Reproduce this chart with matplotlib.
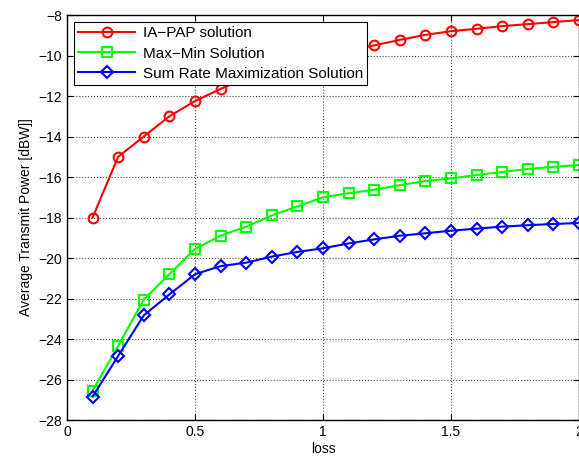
import matplotlib
matplotlib.use("Agg")
import matplotlib.pyplot as plt

# Data
loss = [0.1, 0.2, 0.3, 0.4, 0.5, 0.6, 0.7, 0.8, 0.9, 1.0,
        1.1, 1.2, 1.3, 1.4, 1.5, 1.6, 1.7, 1.8, 1.9, 2.0]
ia_pap = [-18.0, -15.0, -14.0, -13.0, -12.25, -11.65, -11.1, -10.7, -10.3, -10.0,
          -9.75, -9.5, -9.23, -8.98, -8.8, -8.68, -8.55, -8.45, -8.35, -8.25]
max_min = [-26.55, -24.33, -22.05, -20.8, -19.55, -18.9, -18.45, -17.9, -17.45, -17.0,
           -16.8, -16.63, -16.4, -16.2, -16.07, -15.9, -15.75, -15.6, -15.5, -15.4]
sum_rate = [-26.85, -24.83, -22.83, -21.8, -20.8, -20.4, -20.23, -19.93, -19.7, -19.52,
            -19.28, -19.08, -18.9, -18.78, -18.65, -18.55, -18.45, -18.38, -18.32, -18.27]
labels = ["IA\u2212PAP solution", "Max\u2212Min Solution", "Sum Rate Maximization Solution"]

plt.rcParams["font.family"] = ["Liberation Sans", "DejaVu Sans"]
plt.rcParams["axes.unicode_minus"] = True

fig = plt.figure(figsize=(5.79, 4.62), dpi=100)
ax = fig.add_axes([0.1157, 0.0909, 0.8843, 0.8766])

ax.plot(loss, ia_pap, "-o", color="red", lw=1.5, ms=7, mfc="none", mew=1.5, label=labels[0])
ax.plot(loss, max_min, "-s", color="#00ff00", lw=1.5, ms=6.5, mfc="none", mew=1.5, label=labels[1])
ax.plot(loss, sum_rate, "-D", color="blue", lw=1.5, ms=6, mfc="none", mew=1.5, label=labels[2])

ax.set_xlim(0, 2)
ax.set_ylim(-28, -8)
ax.set_xticks([0, 0.5, 1, 1.5, 2])
ax.set_xticklabels(["0", "0.5", "1", "1.5", "2"])
ax.set_yticks(range(-28, -7, 2))
ax.tick_params(direction="in", top=True, right=True, labelsize=10, length=4)
ax.grid(True, ls=":", color="#444444", lw=0.8)
for s in ax.spines.values():
    s.set_linewidth(1.0)

ax.set_xlabel("loss", fontsize=10, labelpad=2)
ax.set_ylabel("Average Transmit Power [dBW]]", fontsize=10)

leg = ax.legend(loc="upper left", fontsize=11, fancybox=False, framealpha=1,
                edgecolor="black", handlelength=3.7, borderaxespad=0.45,
                labelspacing=0.4, borderpad=0.3, handletextpad=0.5)
leg.get_frame().set_linewidth(0.8)

fig.savefig("out.png", dpi=100)
